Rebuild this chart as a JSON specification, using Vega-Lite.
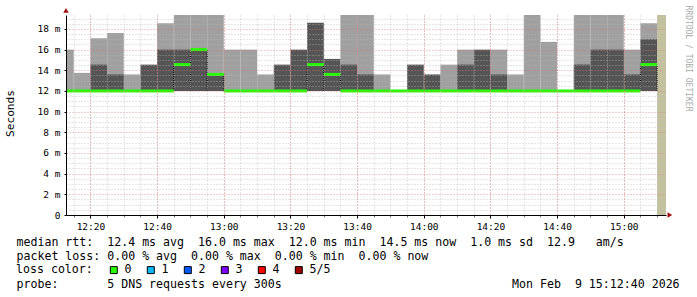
{
  "$schema": "https://vega.github.io/schema/vega-lite/v6.json",
  "width": 600,
  "height": 200,
  "autosize": {"type": "none"},
  "padding": {"left": 66, "top": 15, "right": 31, "bottom": 82},
  "background": "white",
  "config": {"view": {"stroke": null}, "font": "DejaVu Sans Mono"},
  "datasets": {
    "smoke": [
      {"t0": "2026-02-09T12:12:40", "t1": "2026-02-09T12:15:00", "lo": 12, "light": 16.0, "med": 12, "loss": "0"},
      {"t0": "2026-02-09T12:15:00", "t1": "2026-02-09T12:20:00", "lo": 12, "light": 13.75, "med": 12, "loss": "0"},
      {"t0": "2026-02-09T12:20:00", "t1": "2026-02-09T12:25:00", "lo": 12, "light": 17.1, "dark": 14.55, "med": 12, "loss": "0"},
      {"t0": "2026-02-09T12:25:00", "t1": "2026-02-09T12:30:00", "lo": 12, "light": 17.6, "dark": 13.6, "med": 12, "loss": "0"},
      {"t0": "2026-02-09T12:30:00", "t1": "2026-02-09T12:35:00", "lo": 12, "light": 13.6, "med": 12, "loss": "0"},
      {"t0": "2026-02-09T12:35:00", "t1": "2026-02-09T12:40:00", "lo": 12, "dark": 14.55, "med": 12, "loss": "0"},
      {"t0": "2026-02-09T12:40:00", "t1": "2026-02-09T12:45:00", "lo": 12, "light": 18.55, "dark": 16.0, "med": 12, "loss": "0"},
      {"t0": "2026-02-09T12:45:00", "t1": "2026-02-09T12:50:00", "lo": 12, "light": 19.35, "dark": 16.0, "med": 14.55, "loss": "0"},
      {"t0": "2026-02-09T12:50:00", "t1": "2026-02-09T12:55:00", "lo": 12, "light": 19.35, "dark": 16.0, "med": 16.0, "loss": "0"},
      {"t0": "2026-02-09T12:55:00", "t1": "2026-02-09T13:00:00", "lo": 12, "light": 19.35, "dark": 13.6, "med": 13.6, "loss": "0"},
      {"t0": "2026-02-09T13:00:00", "t1": "2026-02-09T13:05:00", "lo": 12, "light": 16.0, "med": 12, "loss": "0"},
      {"t0": "2026-02-09T13:05:00", "t1": "2026-02-09T13:10:00", "lo": 12, "light": 16.0, "med": 12, "loss": "0"},
      {"t0": "2026-02-09T13:10:00", "t1": "2026-02-09T13:15:00", "lo": 12, "light": 13.6, "med": 12, "loss": "0"},
      {"t0": "2026-02-09T13:15:00", "t1": "2026-02-09T13:20:00", "lo": 12, "dark": 14.55, "med": 12, "loss": "0"},
      {"t0": "2026-02-09T13:20:00", "t1": "2026-02-09T13:25:00", "lo": 12, "dark": 16.0, "med": 12, "loss": "0"},
      {"t0": "2026-02-09T13:25:00", "t1": "2026-02-09T13:30:00", "lo": 12, "dark": 18.6, "med": 14.55, "loss": "0"},
      {"t0": "2026-02-09T13:30:00", "t1": "2026-02-09T13:35:00", "lo": 12, "dark": 15.1, "med": 13.6, "loss": "0"},
      {"t0": "2026-02-09T13:35:00", "t1": "2026-02-09T13:40:00", "lo": 12, "light": 19.35, "dark": 14.55, "med": 12, "loss": "0"},
      {"t0": "2026-02-09T13:40:00", "t1": "2026-02-09T13:45:00", "lo": 12, "light": 19.35, "dark": 13.6, "med": 12, "loss": "0"},
      {"t0": "2026-02-09T13:45:00", "t1": "2026-02-09T13:50:00", "lo": 12, "light": 13.6, "med": 12, "loss": "0"},
      {"t0": "2026-02-09T13:50:00", "t1": "2026-02-09T13:55:00", "lo": 12, "med": 12, "loss": "0"},
      {"t0": "2026-02-09T13:55:00", "t1": "2026-02-09T14:00:00", "lo": 12, "dark": 14.55, "med": 12, "loss": "0"},
      {"t0": "2026-02-09T14:00:00", "t1": "2026-02-09T14:05:00", "lo": 12, "dark": 13.6, "med": 12, "loss": "0"},
      {"t0": "2026-02-09T14:05:00", "t1": "2026-02-09T14:10:00", "lo": 12, "light": 14.55, "med": 12, "loss": "0"},
      {"t0": "2026-02-09T14:10:00", "t1": "2026-02-09T14:15:00", "lo": 12, "light": 16.0, "dark": 14.55, "med": 12, "loss": "0"},
      {"t0": "2026-02-09T14:15:00", "t1": "2026-02-09T14:20:00", "lo": 12, "dark": 16.0, "med": 12, "loss": "0"},
      {"t0": "2026-02-09T14:20:00", "t1": "2026-02-09T14:25:00", "lo": 12, "light": 16.0, "dark": 13.6, "med": 12, "loss": "0"},
      {"t0": "2026-02-09T14:25:00", "t1": "2026-02-09T14:30:00", "lo": 12, "light": 13.6, "med": 12, "loss": "0"},
      {"t0": "2026-02-09T14:30:00", "t1": "2026-02-09T14:35:00", "lo": 12, "light": 19.35, "med": 12, "loss": "0"},
      {"t0": "2026-02-09T14:35:00", "t1": "2026-02-09T14:40:00", "lo": 12, "light": 16.75, "med": 12, "loss": "0"},
      {"t0": "2026-02-09T14:40:00", "t1": "2026-02-09T14:45:00", "lo": 12, "med": 12, "loss": "0"},
      {"t0": "2026-02-09T14:45:00", "t1": "2026-02-09T14:50:00", "lo": 12, "light": 19.35, "dark": 14.55, "med": 12, "loss": "0"},
      {"t0": "2026-02-09T14:50:00", "t1": "2026-02-09T14:55:00", "lo": 12, "light": 19.35, "dark": 16.0, "med": 12, "loss": "0"},
      {"t0": "2026-02-09T14:55:00", "t1": "2026-02-09T15:00:00", "lo": 12, "light": 19.35, "dark": 16.0, "med": 12, "loss": "0"},
      {"t0": "2026-02-09T15:00:00", "t1": "2026-02-09T15:05:00", "lo": 12, "light": 16.0, "dark": 13.6, "med": 12, "loss": "0"},
      {"t0": "2026-02-09T15:05:00", "t1": "2026-02-09T15:10:00", "lo": 12, "light": 18.55, "dark": 17.0, "med": 14.55, "loss": "0"}
    ],
    "unknown": [
      {"t0": "2026-02-09T15:10:00", "t1": "2026-02-09T15:12:40", "lo": 0, "hi": 19.35}
    ],
    "steps": [
      {"t": "2026-02-09T12:45:00", "lo": 12, "hi": 14.55},
      {"t": "2026-02-09T12:50:00", "lo": 12, "hi": 16.0},
      {"t": "2026-02-09T12:55:00", "lo": 12, "hi": 16.0},
      {"t": "2026-02-09T13:00:00", "lo": 12, "hi": 13.6},
      {"t": "2026-02-09T13:25:00", "lo": 12, "hi": 14.55},
      {"t": "2026-02-09T13:30:00", "lo": 12, "hi": 14.55},
      {"t": "2026-02-09T13:35:00", "lo": 12, "hi": 13.6},
      {"t": "2026-02-09T15:05:00", "lo": 12, "hi": 14.55},
      {"t": "2026-02-09T15:10:00", "lo": 12, "hi": 14.55}
    ],
    "arrows": [
      {"axis": "x", "t": "2026-02-09T15:13:50", "v": 0},
      {"axis": "y", "t": "2026-02-09T12:12:40", "v": 19.8}
    ]
  },
  "layer": [
    {
      "data": {"name": "smoke"},
      "transform": [{"filter": "isValid(datum.light)"}],
      "mark": {"type": "rect", "color": "#a0a0a0"},
      "encoding": {
        "x": {"field": "t0", "type": "temporal",
          "scale": {"domain": [{"year": 2026, "month": 2, "date": 9, "hours": 12, "minutes": 12, "seconds": 40}, {"year": 2026, "month": 2, "date": 9, "hours": 15, "minutes": 12, "seconds": 40}], "nice": false},
          "axis": {"orient": "bottom", "labels": false, "ticks": true, "tickSize": 2, "tickColor": "#777777", "domain": false, "grid": true, "gridColor": "#b8b8b8", "gridOpacity": 0.7, "gridDash": [1, 2], "zindex": 1,
            "title": "probe:\u00a0\u00a0\u00a0\u00a0\u00a0\u00a0\u00a05 DNS requests every 300s\u00a0\u00a0\u00a0\u00a0\u00a0\u00a0\u00a0\u00a0\u00a0\u00a0\u00a0\u00a0\u00a0\u00a0\u00a0\u00a0\u00a0\u00a0\u00a0\u00a0\u00a0\u00a0\u00a0\u00a0\u00a0\u00a0\u00a0\u00a0\u00a0\u00a0\u00a0\u00a0\u00a0Mon Feb\u00a0\u00a09 15:12:40 2026",
            "titleFont": "DejaVu Sans Mono", "titleFontSize": 11.6, "titleFontWeight": "normal", "titleColor": "#000000", "titleAnchor": "start", "titleAlign": "left", "titleBaseline": "alphabetic", "titleX": -50, "titleY": 72,
            "values": [
              {"year": 2026, "month": 2, "date": 9, "hours": 12, "minutes": 15},
              {"year": 2026, "month": 2, "date": 9, "hours": 12, "minutes": 20},
              {"year": 2026, "month": 2, "date": 9, "hours": 12, "minutes": 25},
              {"year": 2026, "month": 2, "date": 9, "hours": 12, "minutes": 30},
              {"year": 2026, "month": 2, "date": 9, "hours": 12, "minutes": 35},
              {"year": 2026, "month": 2, "date": 9, "hours": 12, "minutes": 40},
              {"year": 2026, "month": 2, "date": 9, "hours": 12, "minutes": 45},
              {"year": 2026, "month": 2, "date": 9, "hours": 12, "minutes": 50},
              {"year": 2026, "month": 2, "date": 9, "hours": 12, "minutes": 55},
              {"year": 2026, "month": 2, "date": 9, "hours": 13, "minutes": 0},
              {"year": 2026, "month": 2, "date": 9, "hours": 13, "minutes": 5},
              {"year": 2026, "month": 2, "date": 9, "hours": 13, "minutes": 10},
              {"year": 2026, "month": 2, "date": 9, "hours": 13, "minutes": 15},
              {"year": 2026, "month": 2, "date": 9, "hours": 13, "minutes": 20},
              {"year": 2026, "month": 2, "date": 9, "hours": 13, "minutes": 25},
              {"year": 2026, "month": 2, "date": 9, "hours": 13, "minutes": 30},
              {"year": 2026, "month": 2, "date": 9, "hours": 13, "minutes": 35},
              {"year": 2026, "month": 2, "date": 9, "hours": 13, "minutes": 40},
              {"year": 2026, "month": 2, "date": 9, "hours": 13, "minutes": 45},
              {"year": 2026, "month": 2, "date": 9, "hours": 13, "minutes": 50},
              {"year": 2026, "month": 2, "date": 9, "hours": 13, "minutes": 55},
              {"year": 2026, "month": 2, "date": 9, "hours": 14, "minutes": 0},
              {"year": 2026, "month": 2, "date": 9, "hours": 14, "minutes": 5},
              {"year": 2026, "month": 2, "date": 9, "hours": 14, "minutes": 10},
              {"year": 2026, "month": 2, "date": 9, "hours": 14, "minutes": 15},
              {"year": 2026, "month": 2, "date": 9, "hours": 14, "minutes": 20},
              {"year": 2026, "month": 2, "date": 9, "hours": 14, "minutes": 25},
              {"year": 2026, "month": 2, "date": 9, "hours": 14, "minutes": 30},
              {"year": 2026, "month": 2, "date": 9, "hours": 14, "minutes": 35},
              {"year": 2026, "month": 2, "date": 9, "hours": 14, "minutes": 40},
              {"year": 2026, "month": 2, "date": 9, "hours": 14, "minutes": 45},
              {"year": 2026, "month": 2, "date": 9, "hours": 14, "minutes": 50},
              {"year": 2026, "month": 2, "date": 9, "hours": 14, "minutes": 55},
              {"year": 2026, "month": 2, "date": 9, "hours": 15, "minutes": 0},
              {"year": 2026, "month": 2, "date": 9, "hours": 15, "minutes": 5},
              {"year": 2026, "month": 2, "date": 9, "hours": 15, "minutes": 10}
            ]}},
        "x2": {"field": "t1"},
        "y": {"field": "lo", "type": "quantitative",
          "scale": {"domain": [0, 19.35], "nice": false, "zero": true},
          "axis": {"orient": "left", "values": [0.5, 1, 1.5, 2.5, 3, 3.5, 4.5, 5, 5.5, 6.5, 7, 7.5, 8.5, 9, 9.5, 10.5, 11, 11.5, 12.5, 13, 13.5, 14.5, 15, 15.5, 16.5, 17, 17.5, 18.5, 19], "labels": false, "ticks": false, "domain": false, "grid": true, "gridColor": "#b8b8b8", "gridOpacity": 0.7, "gridDash": [1, 2], "title": null, "zindex": 1}},
        "y2": {"field": "light"}
      }
    },
    {
      "data": {"name": "smoke"},
      "transform": [{"filter": "isValid(datum.dark)"}],
      "mark": {"type": "rect", "color": "#555555"},
      "encoding": {
        "x": {"field": "t0", "type": "temporal", "axis": null},
        "x2": {"field": "t1"},
        "y": {"field": "lo", "type": "quantitative", "axis": null},
        "y2": {"field": "dark"}
      }
    },
    {
      "data": {"name": "unknown"},
      "mark": {"type": "rect", "color": "#c4c19e"},
      "encoding": {
        "x": {"field": "t0", "type": "temporal", "axis": null},
        "x2": {"field": "t1"},
        "y": {"field": "lo", "type": "quantitative", "axis": null},
        "y2": {"field": "hi"}
      }
    },
    {
      "data": {"name": "steps"},
      "mark": {"type": "rule", "color": "#000000", "strokeWidth": 1, "strokeDash": [1, 1]},
      "encoding": {
        "x": {"field": "t", "type": "temporal", "axis": null},
        "y": {"field": "lo", "type": "quantitative",
          "axis": {"orient": "right", "title": "RRDTOOL / TOBI OETIKER", "titleAngle": 90, "titleColor": "#aaaaaa", "titleFont": "DejaVu Sans Mono", "titleFontSize": 8, "titleFontWeight": "normal", "titleAlign": "left", "titleBaseline": "middle", "titleX": 21, "titleY": -10, "labels": false, "ticks": false, "domain": false, "grid": false}},
        "y2": {"field": "hi"}
      }
    },
    {
      "data": {"name": "smoke"},
      "mark": {"type": "rect"},
      "encoding": {
        "x": {"field": "t0", "type": "temporal", "axis": null},
        "x2": {"field": "t1"},
        "y": {"field": "med", "type": "quantitative", "axis": null},
        "y2": {"field": "med"},
        "color": {"field": "loss", "type": "nominal",
          "scale": {"domain": ["0", "1", "2", "3", "4", "5/5"], "range": ["#26ff00", "#00b8ff", "#0059ff", "#7e00ff", "#ff0000", "#a10000"]},
          "legend": {"orient": "none", "legendX": -50, "legendY": 249, "direction": "horizontal", "columns": 6,
            "title": "loss color:", "titleOrient": "left", "titleFont": "DejaVu Sans Mono", "titleFontSize": 11.6, "titleFontWeight": "normal", "titleColor": "#000000", "titlePadding": 15, "titleAnchor": "middle", "titleBaseline": "middle",
            "symbolType": "square", "symbolSize": 49, "symbolStrokeColor": "#000000", "symbolStrokeWidth": 1, "labelFont": "DejaVu Sans Mono", "labelFontSize": 11.6, "labelColor": "#000000", "labelOffset": 5, "columnPadding": 13, "padding": 0}
        }
      }
    },
    {
      "data": {"name": "smoke"},
      "mark": {"type": "rule", "color": "#26ff00", "strokeWidth": 3},
      "encoding": {
        "x": {"field": "t0", "type": "temporal",
          "axis": {"orient": "bottom", "format": "%H:%M", "labelFont": "DejaVu Sans Mono", "labelFontSize": 9.5, "labelColor": "#000000", "labelPadding": 3, "tickSize": 3, "tickColor": "#000000", "domain": true, "domainColor": "#000000", "domainWidth": 1, "grid": true, "gridColor": "#e07070", "gridOpacity": 0.7, "gridDash": [1, 2], "zindex": 1,
            "values": [
              {"year": 2026, "month": 2, "date": 9, "hours": 12, "minutes": 20},
              {"year": 2026, "month": 2, "date": 9, "hours": 12, "minutes": 40},
              {"year": 2026, "month": 2, "date": 9, "hours": 13, "minutes": 0},
              {"year": 2026, "month": 2, "date": 9, "hours": 13, "minutes": 20},
              {"year": 2026, "month": 2, "date": 9, "hours": 13, "minutes": 40},
              {"year": 2026, "month": 2, "date": 9, "hours": 14, "minutes": 0},
              {"year": 2026, "month": 2, "date": 9, "hours": 14, "minutes": 20},
              {"year": 2026, "month": 2, "date": 9, "hours": 14, "minutes": 40},
              {"year": 2026, "month": 2, "date": 9, "hours": 15, "minutes": 0}
            ],
            "title": ["median rtt:\u00a0\u00a012.4 ms avg\u00a0\u00a016.0 ms max\u00a0\u00a012.0 ms min\u00a0\u00a014.5 ms now\u00a0\u00a01.0 ms sd\u00a0\u00a012.9\u00a0\u00a0\u00a0am/s", "packet loss: 0.00 % avg\u00a0\u00a00.00 % max\u00a0\u00a00.00 % min\u00a0\u00a00.00 % now"],
            "titleFont": "DejaVu Sans Mono", "titleFontSize": 11.6, "titleFontWeight": "normal", "titleColor": "#000000", "titleAnchor": "start", "titleAlign": "left", "titleBaseline": "alphabetic", "titleLineHeight": 14, "titleX": -50, "titleY": 30}},
        "x2": {"field": "t1"},
        "y": {"field": "med", "type": "quantitative",
          "axis": {"orient": "left", "values": [0, 2, 4, 6, 8, 10, 12, 14, 16, 18], "labelExpr": "datum.value == 0 ? '0' : datum.value + ' m'", "labelFont": "DejaVu Sans Mono", "labelFontSize": 9.5, "labelColor": "#000000", "labelPadding": 4, "tickSize": 2, "tickColor": "#000000", "domain": true, "domainColor": "#000000", "domainWidth": 1, "grid": true, "gridColor": "#e07070", "gridOpacity": 0.7, "gridDash": [1, 2], "zindex": 1,
            "title": "Seconds", "titleFont": "DejaVu Sans Mono", "titleFontSize": 11.2, "titleFontWeight": "normal", "titleColor": "#000000", "titleAngle": 270, "titleAlign": "center", "titleBaseline": "middle", "titleX": -56, "titleY": 98}}
      }
    },
    {
      "data": {"name": "arrows"},
      "transform": [{"filter": "datum.axis == 'x'"}],
      "mark": {"type": "point", "shape": "triangle-right", "filled": true, "color": "#a01010", "size": 30, "opacity": 1},
      "encoding": {
        "x": {"field": "t", "type": "temporal", "axis": null},
        "y": {"field": "v", "type": "quantitative", "axis": null}
      }
    },
    {
      "data": {"name": "arrows"},
      "transform": [{"filter": "datum.axis == 'y'"}],
      "mark": {"type": "point", "shape": "triangle-up", "filled": true, "color": "#a01010", "size": 30, "opacity": 1},
      "encoding": {
        "x": {"field": "t", "type": "temporal", "axis": null},
        "y": {"field": "v", "type": "quantitative", "axis": null}
      }
    }
  ],
  "resolve": {"axis": {"x": "independent", "y": "independent"}}
}
